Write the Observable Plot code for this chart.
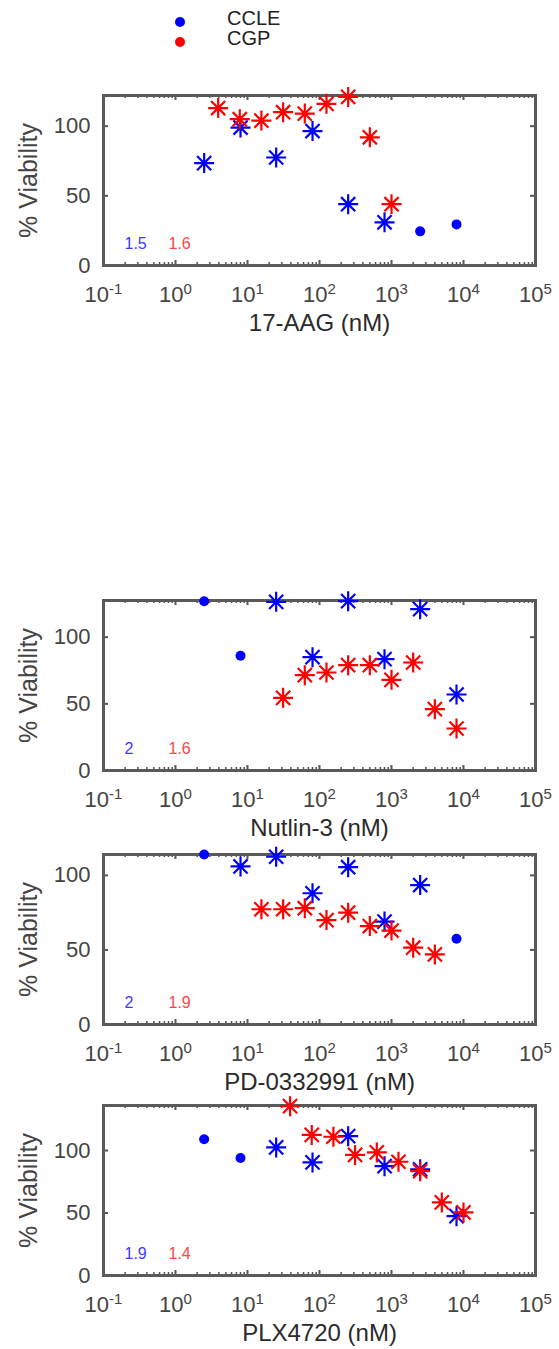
<!DOCTYPE html>
<html>
<head>
<meta charset="utf-8">
<script src="https://cdn.jsdelivr.net/npm/d3@7"></script>
<script src="https://cdn.jsdelivr.net/npm/@observablehq/plot@0.6"></script>
<style>
  body { margin: 0; background: #fff; }
  #root { position: relative; width: 559px; height: 1349px; overflow: hidden;
          font-family: "Liberation Sans", Arial, Helvetica, sans-serif; }
  .panel { position: absolute; left: 0; }
  .lg-dot { position: absolute; width: 10px; height: 10px; border-radius: 50%; }
  .lg-txt { position: absolute; font-size: 20px; color: #222; line-height: 20px; }
</style>
</head>
<body>
<div id="root"></div>
<script>
// ---------------- data ----------------
const drugs = ["17-AAG", "Nutlin-3", "PD-0332991", "PLX4720"];
const seriesNames = ["CCLE", "CGP"];
const seriesColors = ["#0000ff", "#ff0000"];

// CCLE: 8-point dose series (nM)
const ccleDose = [2.5, 8, 25, 80, 250, 800, 2500, 8000];
const ccle17AAG   = [73.5, 99, 77.5, 96.5, 44, 31, 24.5, 29.5];
const ccleNutlin3 = [127, 86, 126.5, 85, 127, 83.5, 121, 57];
const cclePD      = [114, 106, 112.5, 88, 105.5, 69, 93.5, 57.5];
const cclePLX     = [109, 94, 102.5, 90.5, 111.5, 87.5, 85, 47.5];
// marker type of each CCLE point: "*" asterisk, "o" filled dot
const ccleMark17AAG   = ["*", "*", "*", "*", "*", "*", "o", "o"];
const ccleMarkNutlin3 = ["o", "o", "*", "*", "*", "*", "*", "*"];
const ccleMarkPD      = ["o", "*", "*", "*", "*", "*", "*", "o"];
const ccleMarkPLX     = ["o", "o", "*", "*", "*", "*", "*", "*"];

// CGP: 9-point two-fold dose series (nM)
const cgpDose17AAG   = [3.91, 7.81, 15.6, 31.25, 62.5, 125, 250, 500, 1000];
const cgpDoseNutlin3 = [31.25, 62.5, 125, 250, 500, 1000, 2000, 4000, 8000];
const cgpDosePD      = [15.6, 31.25, 62.5, 125, 250, 500, 1000, 2000, 4000];
const cgpDosePLX     = [39, 78, 156, 312, 625, 1250, 2500, 5000, 10000];
const cgp17AAG   = [113, 105, 104, 110, 109, 116, 121, 92, 44];
const cgpNutlin3 = [54.5, 71.5, 73.5, 79, 79, 68, 81, 46, 31.5];
const cgpPD      = [77.3, 77.3, 78, 70, 75, 66, 63, 51.5, 47];
const cgpPLX     = [135.5, 112.5, 111, 96.5, 98.5, 91, 83.5, 58.5, 50.5];

// per-panel annotation numbers
const ccleNote = ["1.5", "2", "2", "1.9"];
const cgpNote  = ["1.6", "1.6", "1.9", "1.4"];

// axes
const yMax = [122, 127.5, 114, 136];
const yTicks = [0, 50, 100];
const xTickPowers = [-1, 0, 1, 2, 3, 4, 5];
const yLabel = "% Viability";

const ccleVals = [ccle17AAG, ccleNutlin3, cclePD, cclePLX];
const ccleMarks = [ccleMark17AAG, ccleMarkNutlin3, ccleMarkPD, ccleMarkPLX];
const cgpDoses = [cgpDose17AAG, cgpDoseNutlin3, cgpDosePD, cgpDosePLX];
const cgpVals = [cgp17AAG, cgpNutlin3, cgpPD, cgpPLX];

// ---------------- layout ----------------
const FONT = '"Liberation Sans", Arial, Helvetica, sans-serif';
const frameTops = [95, 600, 854, 1105];
const W = 559, ML = 103, MR = 24, MT = 12, FH = 170, MB = 72;
const FW = W - ML - MR;

// MATLAB-style '*' marker: + and x overlaid
const asterisk = {
  draw(ctx, size) {
    const r = Math.sqrt(size / Math.PI);
    const d = r * Math.SQRT1_2;
    ctx.moveTo(-r, 0); ctx.lineTo(r, 0);
    ctx.moveTo(0, -r); ctx.lineTo(0, r);
    ctx.moveTo(-d, -d); ctx.lineTo(d, d);
    ctx.moveTo(-d, d); ctx.lineTo(d, -d);
  }
};

const xTicks = xTickPowers.map(p => Math.pow(10, p));
const minorX = [];
for (let p = -1; p < 5; p++) for (let m = 2; m <= 9; m++) minorX.push(m * Math.pow(10, p));

const root = document.getElementById("root");

// legend
seriesNames.forEach((name, k) => {
  const dot = document.createElement("div");
  dot.className = "lg-dot";
  dot.style.left = "175px";
  dot.style.top = (17 + k * 20) + "px";
  dot.style.background = seriesColors[k];
  root.appendChild(dot);
  const t = document.createElement("div");
  t.className = "lg-txt";
  t.textContent = name;
  t.style.left = "227px";
  t.style.top = (8 + k * 20) + "px";
  root.appendChild(t);
});

drugs.forEach((drug, i) => {
  const ccle = ccleDose.map((d, j) => ({dose: d, v: ccleVals[i][j], m: ccleMarks[i][j]}));
  const cgp = cgpDoses[i].map((d, j) => ({dose: d, v: cgpVals[i][j]}));
  const yt = yTicks.filter(t => t > 0 && t < yMax[i]);

  const plot = Plot.plot({
    width: W, height: MT + FH + MB,
    marginLeft: ML, marginRight: MR, marginTop: MT, marginBottom: MB,
    style: {fontFamily: FONT, fontSize: "22px", color: "#444", background: "transparent", overflow: "visible"},
    x: {type: "log", domain: [0.1, 1e5], label: null},
    y: {domain: [0, yMax[i]], label: null},
    marks: [
      // inward ticks
      Plot.ruleX(minorX, {x: d => d, insetTop: FH - 3, stroke: "#555", strokeWidth: 1.5}),
      Plot.ruleX(minorX, {x: d => d, insetBottom: FH - 3, stroke: "#555", strokeWidth: 1.5}),
      Plot.ruleX(xTicks, {x: d => d, insetTop: FH - 5, stroke: "#555", strokeWidth: 2}),
      Plot.ruleX(xTicks, {x: d => d, insetBottom: FH - 5, stroke: "#555", strokeWidth: 2}),
      Plot.ruleY(yt, {y: d => d, insetRight: FW - 5, stroke: "#555", strokeWidth: 2}),
      Plot.ruleY(yt, {y: d => d, insetLeft: FW - 5, stroke: "#555", strokeWidth: 2}),
      Plot.frame({stroke: "#5a5a5a", strokeWidth: 3}),
      Plot.axisX({ticks: xTicks, tickSize: 0, tickPadding: 21, fontSize: 22, label: null,
                  tickFormat: d => `10^${Math.round(Math.log10(d))}`}),
      Plot.axisY({ticks: yTicks, tickSize: 0, tickPadding: 13, fontSize: 22, label: null}),
      // CCLE
      Plot.dot(ccle.filter(d => d.m === "o"), {x: "dose", y: "v", r: 5, fill: seriesColors[0], stroke: "none"}),
      Plot.dot(ccle.filter(d => d.m === "*"), {x: "dose", y: "v", r: 10, symbol: asterisk, fill: "none",
               stroke: seriesColors[0], strokeWidth: 2.2}),
      // CGP
      Plot.dot(cgp, {x: "dose", y: "v", r: 10, symbol: asterisk, fill: "none", stroke: seriesColors[1], strokeWidth: 2.2}),
      // annotations
      Plot.text([ccleNote[i]], {text: d => d, frameAnchor: "bottom-left", textAnchor: "start", lineAnchor: "middle",
                dx: 21, dy: -22, fontSize: 16, fill: "#3b3bff"}),
      Plot.text([cgpNote[i]], {text: d => d, frameAnchor: "bottom-left", textAnchor: "start", lineAnchor: "middle",
                dx: 65, dy: -22, fontSize: 16, fill: "#ff4545"}),
      // axis titles
      Plot.text([`${drug} (nM)`], {text: d => d, frameAnchor: "bottom", textAnchor: "middle", lineAnchor: "middle",
                dy: 58, fontSize: 24, fill: "#2a2a2a", ariaLabel: "xtitle"}),
      Plot.text([yLabel], {text: d => d, frameAnchor: "left", textAnchor: "middle", lineAnchor: "middle",
                dx: -75, rotate: -90, fontSize: 25, fill: "#444", ariaLabel: "ytitle"})
    ]
  });

  // superscript exponents on x tick labels
  plot.querySelectorAll('g[aria-label="x-axis tick label"] text').forEach(t => {
    const s = t.textContent;
    const m = s.match(/^10\^(-?\d+)$/);
    if (!m) return;
    t.textContent = "10";
    const ts = document.createElementNS("http://www.w3.org/2000/svg", "tspan");
    ts.setAttribute("dy", "-8");
    ts.setAttribute("font-size", "15");
    ts.textContent = m[1];
    t.appendChild(ts);
  });
  plot.querySelectorAll('g[aria-label="xtitle"] text').forEach(t => t.style.letterSpacing = "2.5px");
  plot.querySelectorAll('g[aria-label="ytitle"] text').forEach(t => t.style.letterSpacing = "1.5px");

  const wrap = document.createElement("div");
  wrap.className = "panel";
  wrap.style.top = (frameTops[i] - MT) + "px";
  wrap.appendChild(plot);
  root.appendChild(wrap);
});
</script>
</body>
</html>
